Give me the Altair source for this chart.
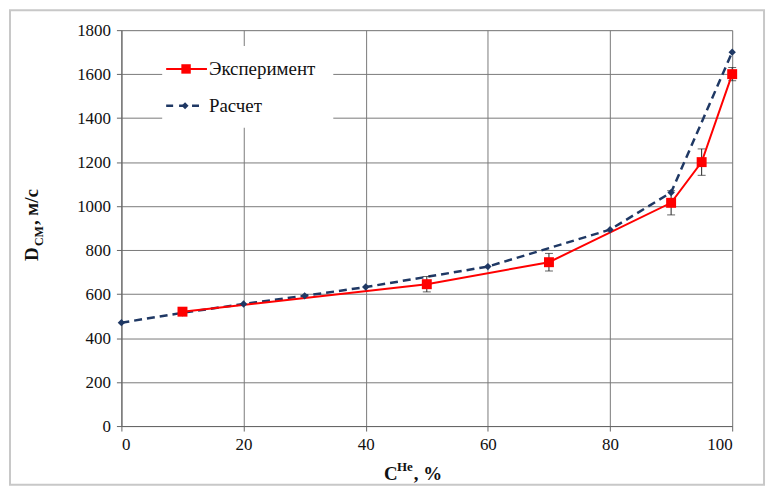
import altair as alt
import pandas as pd

# Data
exp_x = [10, 50, 70, 90, 95, 100]
exp_y = [520, 645, 745, 1015, 1200, 1600]
exp_err = [15, 35, 40, 55, 60, 30]

calc_x = [0, 10, 20, 30, 40, 60, 80, 90, 100]
calc_y = [470, 515, 555, 592, 632, 725, 893, 1062, 1700]

x_ticks = [0, 20, 40, 60, 80, 100]
y_ticks = list(range(0, 1801, 200))

legend_labels = ["Эксперимент", "Расчет"]

RED = "#FF0000"
BLUE = "#1F3864"
FONT = "Liberation Serif"

W, H = 614, 398

exp_df = pd.DataFrame({"x": exp_x, "y": exp_y, "lo": [a - b for a, b in zip(exp_y, exp_err)],
                       "hi": [a + b for a, b in zip(exp_y, exp_err)]})
calc_df = pd.DataFrame({"x": calc_x, "y": calc_y})

xs = alt.Scale(domain=[0, 100], nice=False, zero=False)
ys = alt.Scale(domain=[0, 1800], nice=False)

xaxis = alt.Axis(values=x_ticks, title=None, grid=True, gridColor="#7a7a7a", gridWidth=1, format="d",
                 labelFont=FONT, labelFontSize=17, labelColor="#111", labelPadding=6,
                 domainColor="#666", tickColor="#666", tickSize=5)
yaxis = alt.Axis(values=y_ticks, title=None, grid=True, gridColor="#7a7a7a", gridWidth=1, format="d",
                 labelFont=FONT, labelFontSize=17, labelColor="#111", labelPadding=6,
                 domainColor="#666", tickColor="#666", tickSize=5)

base_grid = alt.Chart(calc_df).mark_point(opacity=0).encode(
    x=alt.X("x:Q", scale=xs, axis=xaxis),
    y=alt.Y("y:Q", scale=ys, axis=yaxis),
)

calc_line = alt.Chart(calc_df).mark_line(color=BLUE, strokeWidth=2.5, strokeDash=[8, 5]).encode(
    x=alt.X("x:Q", scale=xs), y=alt.Y("y:Q", scale=ys))
calc_pts = alt.Chart(calc_df).mark_point(shape="diamond", filled=True, color=BLUE, size=55, opacity=1).encode(
    x=alt.X("x:Q", scale=xs), y=alt.Y("y:Q", scale=ys))

err = alt.Chart(exp_df).mark_errorbar(ticks=alt.TickConfig(size=8, color="#222", thickness=1), color="#222", thickness=1).encode(
    x=alt.X("x:Q", scale=xs), y=alt.Y("lo:Q", scale=ys, title=None), y2="hi:Q")

exp_line = alt.Chart(exp_df).mark_line(color=RED, strokeWidth=2).encode(
    x=alt.X("x:Q", scale=xs), y=alt.Y("y:Q", scale=ys))
exp_pts = alt.Chart(exp_df).mark_point(shape="square", filled=True, color=RED, size=100, opacity=1).encode(
    x=alt.X("x:Q", scale=xs), y=alt.Y("y:Q", scale=ys))

one = pd.DataFrame({"k": [0]})

# Legend (drawn manually)
leg_box = alt.Chart(one).mark_rect(fill="white").encode(
    x=alt.value(41), x2=alt.value(213), y=alt.value(16), y2=alt.value(98))
leg_l1 = alt.Chart(one).mark_rule(color=RED, strokeWidth=2).encode(
    x=alt.value(45), x2=alt.value(86), y=alt.value(39))
leg_p1 = alt.Chart(one).mark_point(shape="square", filled=True, color=RED, size=90, opacity=1).encode(
    x=alt.value(65), y=alt.value(39))
leg_t1 = alt.Chart(one).mark_text(text=legend_labels[0], align="left", baseline="middle",
                                  font=FONT, fontSize=19, color="#111").encode(
    x=alt.value(88), y=alt.value(39))
leg_l2 = alt.Chart(one).mark_rule(color=BLUE, strokeWidth=2.5, strokeDash=[7, 6]).encode(
    x=alt.value(45), x2=alt.value(84), y=alt.value(76))
leg_p2 = alt.Chart(one).mark_point(shape="diamond", filled=True, color=BLUE, size=50, opacity=1).encode(
    x=alt.value(64), y=alt.value(76))
leg_t2 = alt.Chart(one).mark_text(text=legend_labels[1], align="left", baseline="middle",
                                  font=FONT, fontSize=19, color="#111").encode(
    x=alt.value(88), y=alt.value(76))

# Axis titles with sub/superscripts
xt_c = alt.Chart(one).mark_text(text="C", align="left", baseline="alphabetic", font=FONT,
                                fontSize=19, fontWeight="bold", color="#111").encode(
    x=alt.value(264), y=alt.value(452))
xt_he = alt.Chart(one).mark_text(text="He", align="left", baseline="alphabetic", font=FONT,
                                 fontSize=13, fontWeight="bold", color="#111").encode(
    x=alt.value(277), y=alt.value(443))
xt_pc = alt.Chart(one).mark_text(text=", %", align="left", baseline="alphabetic", font=FONT,
                                 fontSize=19, fontWeight="bold", color="#111").encode(
    x=alt.value(294), y=alt.value(452))

yt_d = alt.Chart(one).mark_text(text="D", align="left", baseline="alphabetic", angle=270, font=FONT,
                                fontSize=19, fontWeight="bold", color="#111").encode(
    x=alt.value(-84), y=alt.value(232))
yt_cm = alt.Chart(one).mark_text(text="CM", align="left", baseline="alphabetic", angle=270, font=FONT,
                                 fontSize=12, fontWeight="bold", color="#111").encode(
    x=alt.value(-79), y=alt.value(217))
yt_u = alt.Chart(one).mark_text(text=", м/с", align="left", baseline="alphabetic", angle=270, font=FONT,
                                fontSize=19, fontWeight="bold", color="#111").encode(
    x=alt.value(-84), y=alt.value(196))

# Outer frame
frame = alt.Chart(one).mark_rect(fill=None, stroke="#c8c8c8", strokeWidth=2, clip=False).encode(
    x=alt.value(-112), x2=alt.value(646), y=alt.value(-20), y2=alt.value(457))

chart = alt.layer(
    frame, base_grid, leg_box, calc_line, err, exp_line, calc_pts, exp_pts,
    leg_l1, leg_p1, leg_t1, leg_l2, leg_p2, leg_t2,
    xt_c, xt_he, xt_pc, yt_d, yt_cm, yt_u,
).properties(
    width=W, height=H,
    autosize=alt.AutoSizeParams(type="none"),
    padding={"left": 114, "top": 21, "right": 36, "bottom": 60},
).configure_view(
    stroke="#7a7a7a", strokeWidth=1
).configure(background="white")

chart.save("out.html", embed_options={"renderer": "svg", "actions": False})
